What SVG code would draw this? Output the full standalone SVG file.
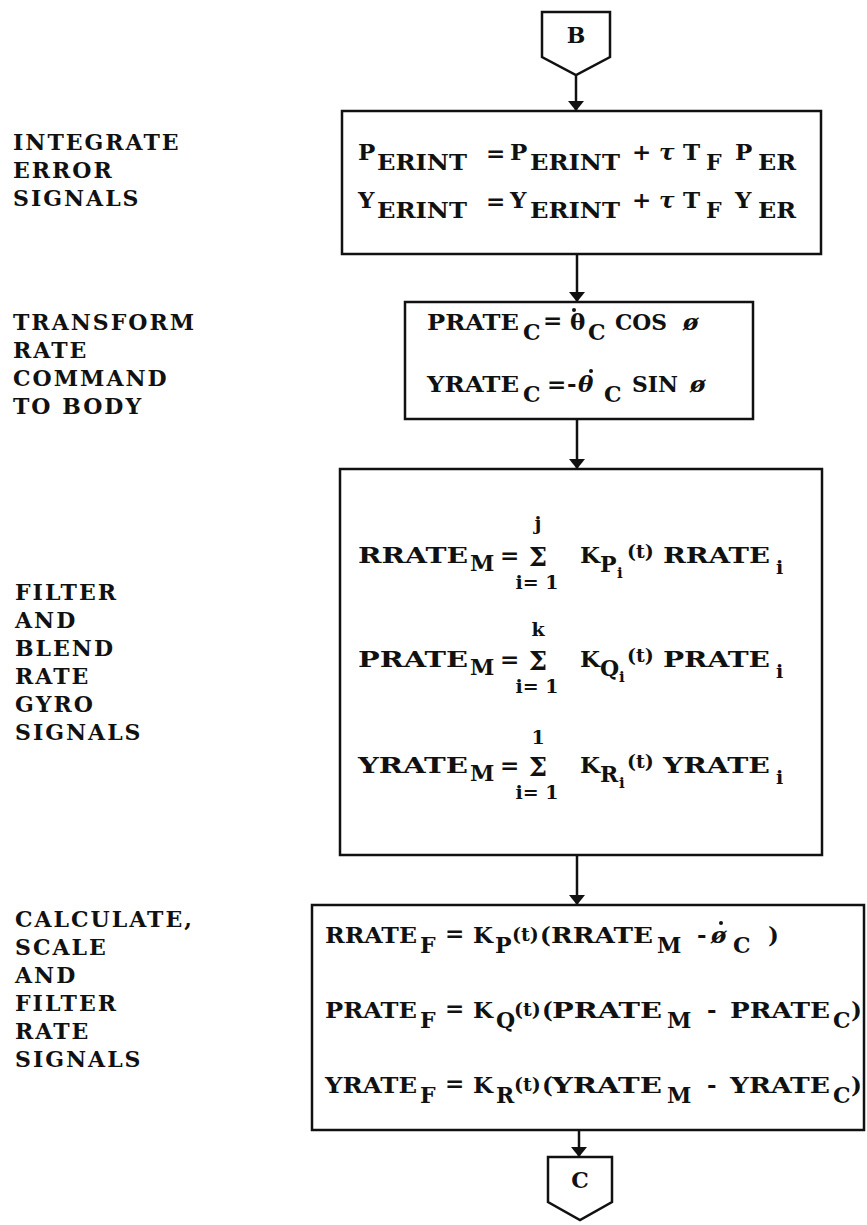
<svg xmlns="http://www.w3.org/2000/svg" width="867" height="1225" viewBox="0 0 867 1225">
<defs>
<style>
text{font-family:"DejaVu Serif","Liberation Serif",serif;font-weight:bold;fill:#111;}
.lbl{font-size:22px;letter-spacing:2px;}
.m{font-size:23px;}
.s{font-size:22px;}
.sg{font-size:26px;}
.sm{font-size:19px;}
.xs{font-size:15px;}
.box{fill:#fff;stroke:#111;stroke-width:2.5;}
.conn{fill:none;stroke:#111;stroke-width:2.5;}
.dot{fill:#111;}
</style>
<marker id="ah" viewBox="0 0 10 16" refX="10" refY="8" markerWidth="10" markerHeight="16" markerUnits="userSpaceOnUse" orient="auto">
<path d="M0,0 L10,8 L0,16 Z" fill="#111"/>
</marker>
</defs>
<rect width="867" height="1225" fill="#fff"/>

<g id="labels">
<text class="lbl" x="13" y="150">INTEGRATE</text>
<text class="lbl" x="13" y="178">ERROR</text>
<text class="lbl" x="13" y="206">SIGNALS</text>
<text class="lbl" x="13" y="330">TRANSFORM</text>
<text class="lbl" x="13" y="358">RATE</text>
<text class="lbl" x="13" y="386">COMMAND</text>
<text class="lbl" x="13" y="414">TO BODY</text>
<text class="lbl" x="15" y="600">FILTER</text>
<text class="lbl" x="15" y="628">AND</text>
<text class="lbl" x="15" y="656">BLEND</text>
<text class="lbl" x="15" y="684">RATE</text>
<text class="lbl" x="15" y="712">GYRO</text>
<text class="lbl" x="15" y="740">SIGNALS</text>
<text class="lbl" x="15" y="927">CALCULATE,</text>
<text class="lbl" x="15" y="955">SCALE</text>
<text class="lbl" x="15" y="983">AND</text>
<text class="lbl" x="15" y="1011">FILTER</text>
<text class="lbl" x="15" y="1039">RATE</text>
<text class="lbl" x="15" y="1067">SIGNALS</text>
</g>

<g id="connectors">
<line class="conn" x1="576" y1="75" x2="576" y2="111" marker-end="url(#ah)"/>
<line class="conn" x1="577" y1="254" x2="577" y2="302" marker-end="url(#ah)"/>
<line class="conn" x1="577" y1="419" x2="577" y2="469" marker-end="url(#ah)"/>
<line class="conn" x1="577" y1="855" x2="577" y2="905" marker-end="url(#ah)"/>
<line class="conn" x1="579" y1="1130" x2="579" y2="1157" marker-end="url(#ah)"/>
</g>

<g id="node-B">
<path class="box" d="M542,12 L610,12 L610,57 L576,75 L542,57 Z"/>
<text x="576" y="43" font-size="22" text-anchor="middle">B</text>
</g>

<g id="node-integrate">
<rect class="box" x="342" y="111" width="479" height="143"/>
<text class="m" x="358" y="160">P</text>
<text class="s" x="377" y="170" textLength="90" lengthAdjust="spacingAndGlyphs">ERINT</text>
<text class="m" x="486" y="161">=</text>
<text class="m" x="510" y="160">P</text>
<text class="s" x="530" y="170" textLength="90" lengthAdjust="spacingAndGlyphs">ERINT</text>
<text class="m" x="632" y="160">+</text>
<text class="m" x="659" y="160" font-style="italic">τ</text>
<text class="m" x="683" y="160">T</text>
<text class="s" x="706" y="170">F</text>
<text class="m" x="735" y="160">P</text>
<text class="s" x="758" y="170" textLength="38" lengthAdjust="spacingAndGlyphs">ER</text>
<text class="m" x="358" y="208">Y</text>
<text class="s" x="377" y="218" textLength="90" lengthAdjust="spacingAndGlyphs">ERINT</text>
<text class="m" x="486" y="209">=</text>
<text class="m" x="510" y="208">Y</text>
<text class="s" x="530" y="218" textLength="90" lengthAdjust="spacingAndGlyphs">ERINT</text>
<text class="m" x="632" y="208">+</text>
<text class="m" x="659" y="208" font-style="italic">τ</text>
<text class="m" x="683" y="208">T</text>
<text class="s" x="706" y="218">F</text>
<text class="m" x="735" y="208">Y</text>
<text class="s" x="758" y="218" textLength="38" lengthAdjust="spacingAndGlyphs">ER</text>
</g>

<g id="node-transform">
<rect class="box" x="405" y="302" width="348" height="117"/>
<text class="m" x="427" y="330" textLength="92" lengthAdjust="spacingAndGlyphs">PRATE</text>
<text class="s" x="523" y="340">C</text>
<text class="m" x="543" y="328">=</text>
<text class="m" x="570" y="330">θ</text>
<circle class="dot" cx="574" cy="310" r="2"/>
<text class="s" x="588" y="340">C</text>
<text class="m" x="615" y="330" textLength="52" lengthAdjust="spacingAndGlyphs">COS</text>
<text class="m" x="683" y="330" font-style="italic">ø</text>
<text class="m" x="427" y="392" textLength="92" lengthAdjust="spacingAndGlyphs">YRATE</text>
<text class="s" x="523" y="402">C</text>
<text class="m" x="547" y="392">=</text>
<text class="m" x="567" y="392">-</text>
<text class="m" x="578" y="392" font-style="italic">θ</text>
<circle class="dot" cx="591" cy="371" r="2"/>
<text class="s" x="604" y="402">C</text>
<text class="m" x="632" y="392" textLength="46" lengthAdjust="spacingAndGlyphs">SIN</text>
<text class="m" x="690" y="392" font-style="italic">ø</text>
</g>

<g id="node-filter">
<rect class="box" x="340" y="469" width="482" height="386"/>
<text class="m" x="358" y="563" textLength="110" lengthAdjust="spacingAndGlyphs">RRATE</text>
<text class="s" x="470" y="571">M</text>
<text class="m" x="500" y="563">=</text>
<text class="sm" x="538" y="530" text-anchor="middle">j</text>
<text class="sg" x="538" y="566" text-anchor="middle">Σ</text>
<text class="sm" x="537" y="589" text-anchor="middle">i= 1</text>
<text class="m" x="580" y="563">K</text>
<text class="s" x="600" y="572">P</text>
<text class="xs" x="617" y="578">i</text>
<text class="sm" x="627" y="558">(t)</text>
<text class="m" x="663" y="563" textLength="107" lengthAdjust="spacingAndGlyphs">RRATE</text>
<text class="sm" x="776" y="574">i</text>

<text class="m" x="358" y="667" textLength="110" lengthAdjust="spacingAndGlyphs">PRATE</text>
<text class="s" x="470" y="675">M</text>
<text class="m" x="500" y="667">=</text>
<text class="sm" x="538" y="636" text-anchor="middle">k</text>
<text class="sg" x="538" y="670" text-anchor="middle">Σ</text>
<text class="sm" x="537" y="693" text-anchor="middle">i= 1</text>
<text class="m" x="580" y="667">K</text>
<text class="s" x="600" y="676">Q</text>
<text class="xs" x="619" y="682">i</text>
<text class="sm" x="627" y="662">(t)</text>
<text class="m" x="663" y="667" textLength="107" lengthAdjust="spacingAndGlyphs">PRATE</text>
<text class="sm" x="776" y="678">i</text>

<text class="m" x="358" y="773" textLength="110" lengthAdjust="spacingAndGlyphs">YRATE</text>
<text class="s" x="470" y="781">M</text>
<text class="m" x="500" y="773">=</text>
<text class="sm" x="538" y="744" text-anchor="middle">1</text>
<text class="sg" x="538" y="776" text-anchor="middle">Σ</text>
<text class="sm" x="537" y="799" text-anchor="middle">i= 1</text>
<text class="m" x="580" y="773">K</text>
<text class="s" x="600" y="782">R</text>
<text class="xs" x="619" y="788">i</text>
<text class="sm" x="627" y="768">(t)</text>
<text class="m" x="663" y="773" textLength="107" lengthAdjust="spacingAndGlyphs">YRATE</text>
<text class="sm" x="776" y="784">i</text>
</g>

<g id="node-calculate">
<rect class="box" x="312" y="905" width="552" height="225"/>
<text class="m" x="325" y="943" textLength="92" lengthAdjust="spacingAndGlyphs">RRATE</text>
<text class="s" x="420" y="953">F</text>
<text class="m" x="445" y="941">=</text>
<text class="m" x="473" y="943">K</text>
<text class="s" x="495" y="953">P</text>
<text class="sm" x="512" y="941">(t)</text>
<text class="m" x="540" y="943">(</text>
<text class="m" x="551" y="943" textLength="102" lengthAdjust="spacingAndGlyphs">RRATE</text>
<text class="s" x="657" y="953">M</text>
<text class="m" x="697" y="943">-</text>
<text class="m" x="711" y="943" font-style="italic">ø</text>
<circle class="dot" cx="721" cy="923" r="2"/>
<text class="s" x="733" y="953">C</text>
<text class="m" x="768" y="943">)</text>

<text class="m" x="325" y="1018" textLength="92" lengthAdjust="spacingAndGlyphs">PRATE</text>
<text class="s" x="420" y="1028">F</text>
<text class="m" x="445" y="1016">=</text>
<text class="m" x="473" y="1018">K</text>
<text class="s" x="496" y="1028">Q</text>
<text class="sm" x="514" y="1016">(t)</text>
<text class="m" x="542" y="1018">(</text>
<text class="m" x="552" y="1018" textLength="110" lengthAdjust="spacingAndGlyphs">PRATE</text>
<text class="s" x="667" y="1028">M</text>
<text class="m" x="707" y="1018">-</text>
<text class="m" x="730" y="1018" textLength="100" lengthAdjust="spacingAndGlyphs">PRATE</text>
<text class="s" x="833" y="1028">C</text>
<text class="m" x="851" y="1018">)</text>

<text class="m" x="325" y="1093" textLength="92" lengthAdjust="spacingAndGlyphs">YRATE</text>
<text class="s" x="420" y="1103">F</text>
<text class="m" x="445" y="1091">=</text>
<text class="m" x="473" y="1093">K</text>
<text class="s" x="496" y="1103">R</text>
<text class="sm" x="514" y="1091">(t)</text>
<text class="m" x="542" y="1093">(</text>
<text class="m" x="552" y="1093" textLength="110" lengthAdjust="spacingAndGlyphs">YRATE</text>
<text class="s" x="667" y="1103">M</text>
<text class="m" x="707" y="1093">-</text>
<text class="m" x="730" y="1093" textLength="100" lengthAdjust="spacingAndGlyphs">YRATE</text>
<text class="s" x="833" y="1103">C</text>
<text class="m" x="851" y="1093">)</text>
</g>

<g id="node-C">
<path class="box" d="M548,1157 L612,1157 L612,1202 L580,1220 L548,1202 Z"/>
<text x="580" y="1188" font-size="22" text-anchor="middle">C</text>
</g>
</svg>
